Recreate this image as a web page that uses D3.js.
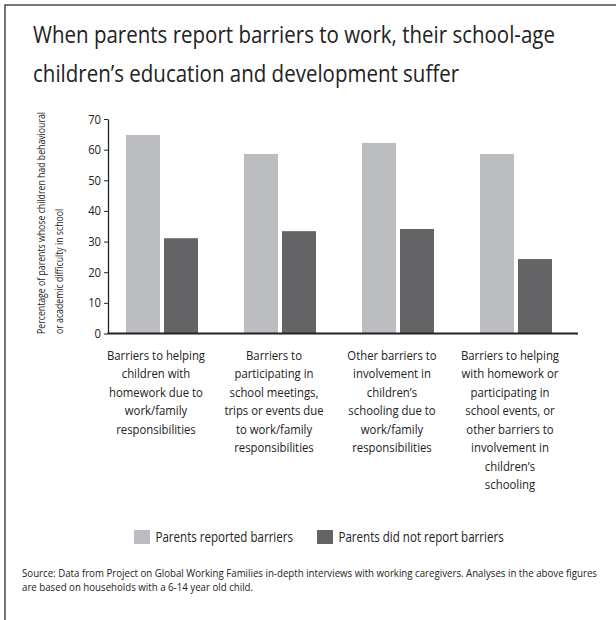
<!DOCTYPE html>
<html>
<head>
<meta charset="utf-8">
<script src="https://cdn.jsdelivr.net/npm/d3@7"></script>
<style>
  html, body { margin: 0; padding: 0; background: #fff; }
  svg { display: block; font-family: "Open Sans", "Noto Sans", sans-serif; }
</style>
</head>
<body>
<svg id="chart" width="616" height="620"></svg>
<script>
// ---- data ----
const categories = [
  "Barriers to helping children with homework due to work/family responsibilities",
  "Barriers to participating in school meetings, trips or events due to work/family responsibilities",
  "Other barriers to involvement in children's schooling due to work/family responsibilities",
  "Barriers to helping with homework or participating in school events, or other barriers to involvement in children's schooling"
];
const categoryLines = [
  ["Barriers to helping", "children with", "homework due to", "work/family", "responsibilities"],
  ["Barriers to", "participating in", "school meetings,", "trips or events due", "to work/family", "responsibilities"],
  ["Other barriers to", "involvement in", "children\u2019s", "schooling due to", "work/family", "responsibilities"],
  ["Barriers to helping", "with homework or", "participating in", "school events, or", "other barriers to", "involvement in", "children\u2019s", "schooling"]
];
const seriesNames = ["Parents reported barriers", "Parents did not report barriers"];
const reportedValues = [64.8, 58.6, 62.2, 58.6];
const notReportedValues = [31.1, 33.4, 34.1, 24.3];
const yTicks = [0, 10, 20, 30, 40, 50, 60, 70];
const titleLines = [
  "When parents report barriers to work, their school-age",
  "children\u2019s education and development suffer"
];
const yLabelLines = [
  "Percentage of parents whose children had behavioural",
  "or academic difficulty in school"
];
const sourceLines = [
  "Source: Data from Project on Global Working Families in-depth interviews with working caregivers. Analyses in the above figures",
  "are based on households with a 6-14 year  old child."
];

const colors = ["#bcbdc0", "#646466"];
const rows = categories.map((c, i) => ({
  category: c,
  values: [reportedValues[i], notReportedValues[i]]
}));

const svg = d3.select("#chart");

// narrow the humanist sans by a fixed factor so it sets like a condensed text face
function condense(sel, k) {
  sel.each(function () {
    const w = this.getComputedTextLength();
    d3.select(this).attr("textLength", w * k).attr("lengthAdjust", "spacingAndGlyphs");
  });
}
// factor that brings the first text of a block to a given width
function factorFor(sel, width) {
  return width / sel.node().getComputedTextLength();
}

// outer frame (runs off the right and bottom edges)
svg.append("rect")
  .attr("x", 5).attr("y", 5).attr("width", 700).attr("height", 700)
  .attr("fill", "none").attr("stroke", "#4a4a4a").attr("stroke-width", 1.5);

// title
const title = svg.append("g").selectAll("text").data(titleLines).join("text")
  .attr("x", 33).attr("y", (d, i) => 43 + i * 38.5)
  .attr("font-size", 24.5).attr("fill", "#222")
  .text(d => d);
title.call(condense, factorFor(title, 522));

// scales
const x0 = d3.scaleBand().domain(categories).range([103, 575])
  .paddingInner(0.39).paddingOuter(0.195);
const x1 = d3.scaleBand().domain(seriesNames).range([0, x0.bandwidth()])
  .paddingInner(0.105);
const y = d3.scaleLinear().domain([0, 70]).range([333.5, 119]);

// bars
const groups = svg.append("g").selectAll("g").data(rows).join("g")
  .attr("transform", d => `translate(${x0(d.category)},0)`);
groups.selectAll("rect")
  .data(d => d.values.map((v, j) => ({ name: seriesNames[j], value: v, j })))
  .join("rect")
  .attr("x", d => x1(d.name))
  .attr("width", x1.bandwidth())
  .attr("y", d => y(d.value))
  .attr("height", d => y(0) - y(d.value))
  .attr("fill", d => colors[d.j]);

// y axis
const yAxis = svg.append("g")
  .attr("transform", "translate(108,0)")
  .call(d3.axisLeft(y).tickValues(yTicks).tickSize(4).tickPadding(3).tickSizeOuter(0));
yAxis.select(".domain").attr("stroke", "#222").attr("stroke-width", 1.3);
yAxis.selectAll(".tick line").attr("stroke", "#222").attr("stroke-width", 1);
yAxis.selectAll(".tick text")
  .attr("font-family", "'Open Sans', sans-serif")
  .attr("font-size", 12.5).attr("fill", "#222")
  .call(condense, 0.9);

// category baseline
svg.append("line")
  .attr("x1", 107.5).attr("x2", 578)
  .attr("y1", y(0)).attr("y2", y(0))
  .attr("stroke", "#222").attr("stroke-width", 1.8);

// y axis title (two lines, reading upward)
const yLabel = svg.append("g").selectAll("text").data(yLabelLines).join("text")
  .attr("transform", (d, i) => `translate(${44.5 + i * 18.3},334) rotate(-90)`)
  .attr("font-size", 11.6).attr("fill", "#222")
  .text(d => d);
yLabel.call(condense, factorFor(yLabel, 222));

// category labels
const catLabels = svg.append("g").selectAll("text").data(rows).join("text")
  .attr("text-anchor", "middle")
  .attr("font-size", 12.6).attr("fill", "#222");
catLabels.each(function (d, i) {
  const cx = x0(d.category) + x0.bandwidth() / 2 - 6;
  d3.select(this).selectAll("tspan").data(categoryLines[i]).join("tspan")
    .attr("x", cx).attr("y", (t, k) => 359.5 + k * 18.5)
    .text(t => t);
});
const catSpans = catLabels.selectAll("tspan");
catSpans.call(condense, factorFor(catSpans, 98));

// legend
const legendX = [134, 317];
const legend = svg.append("g").selectAll("g").data(seriesNames).join("g")
  .attr("transform", (d, i) => `translate(${legendX[i]},530)`);
legend.append("rect")
  .attr("width", 16).attr("height", 14)
  .attr("fill", (d, i) => colors[i]);
const legendText = legend.append("text")
  .attr("x", 21.5).attr("y", 11.8)
  .attr("font-size", 13.8).attr("fill", "#222")
  .text(d => d);
legendText.call(condense, factorFor(legendText, 137.5));

// source note
const source = svg.append("g").selectAll("text").data(sourceLines).join("text")
  .attr("x", 22).attr("y", (d, i) => 577 + i * 13.5)
  .attr("font-size", 10.2).attr("fill", "#222")
  .text(d => d);
source.call(condense, factorFor(source, 575));
</script>
</body>
</html>
